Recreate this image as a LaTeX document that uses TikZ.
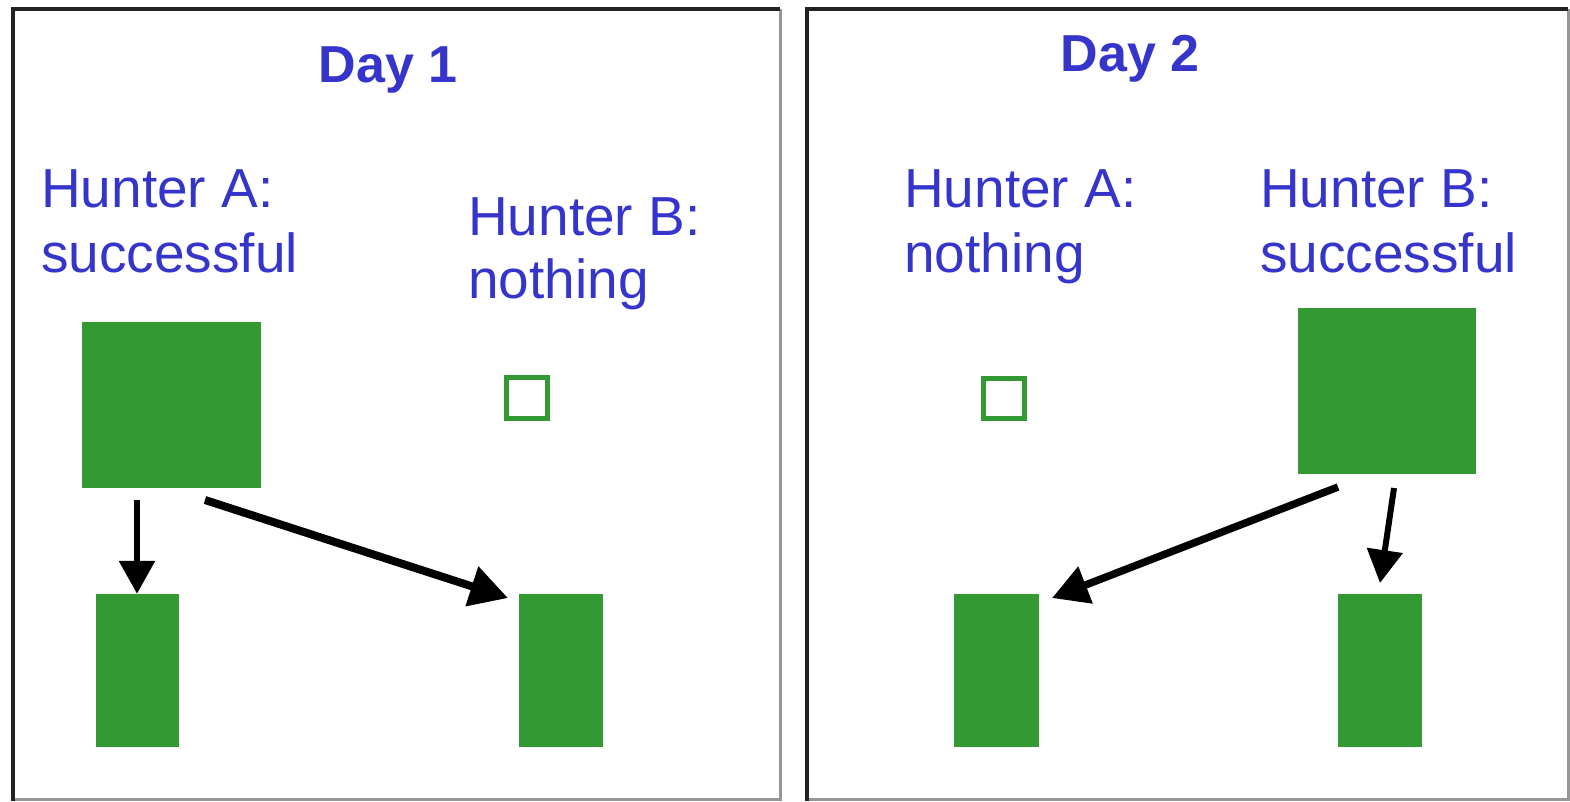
\documentclass[tikz,border=0pt]{standalone}
\usepackage{fontspec}
\setmainfont{Liberation Sans}
\usetikzlibrary{arrows.meta}
\definecolor{hgreen}{RGB}{51,153,51}
\definecolor{hblue}{RGB}{53,53,204}
\definecolor{darkedge}{RGB}{34,34,34}
\definecolor{lightedge}{RGB}{150,150,150}
\tikzset{
  x=1pt, y=-1pt,
  lbl/.style={text=hblue, font=\fontsize{55}{65}\selectfont, inner sep=0pt, anchor=base west},
  ttl/.style={text=hblue, font=\fontsize{52}{62}\selectfont\bfseries, inner sep=0pt, anchor=base},
  filled/.style={fill=hgreen, draw=none, inner sep=0pt},
  empty/.style={draw=hgreen, line width=5pt, fill=white, inner sep=0pt},
  arr/.style={draw=black, line width=6pt, -{Triangle[length=33pt,width=35pt]}},
  darkline/.style={draw=darkedge, line width=3.5pt},
  lightline/.style={draw=lightedge, line width=3pt}
}
\begin{document}
\begin{tikzpicture}
\useasboundingbox (0,0) rectangle (1570,801);
\fill[white] (0,0) rectangle (1570,801);
% panel frames
\draw[lightline] (780,9) -- (780,799) -- (13,799);
\draw[darkline] (13,801) -- (13,9) -- (780,9);
\draw[lightline] (1568,9) -- (1568,799) -- (807,799);
\draw[darkline] (807,801) -- (807,9) -- (1568,9);

% Day 1
\node[ttl] (d1) at (388,82) {Day 1};
\node[lbl] (a1l1) at (41,207) {Hunter A:};
\node[lbl] (a1l2) at (41,272) {successful};
\node[lbl] (b1l1) at (468,235) {Hunter B:};
\node[lbl] (b1l2) at (468,298) {nothing};

\node[filled, minimum width=179pt, minimum height=166pt] (big1) at (171.5,405) {};
\node[empty, minimum width=41pt, minimum height=41pt] (small1) at (526.5,398) {};
\node[filled, minimum width=83pt, minimum height=153pt] (bl1) at (137,670.5) {};
\node[filled, minimum width=84pt, minimum height=153pt] (br1) at (561,670.5) {};

\coordinate (s1a) at (137,500);
\coordinate (s1b) at (205,500);
\coordinate (t1b) at (508,598);
\draw[arr] (s1a) -- (bl1.north);
\draw[arr, line width=8pt, -{Triangle[length=38pt,width=40pt]}] (s1b) -- (t1b);

% Day 2
\node[ttl] (d2) at (1130,71) {Day 2};
\node[lbl] (a2l1) at (904,207) {Hunter A:};
\node[lbl] (a2l2) at (904,272) {nothing};
\node[lbl] (b2l1) at (1260,207) {Hunter B:};
\node[lbl] (b2l2) at (1260,272) {successful};

\node[empty, minimum width=41pt, minimum height=40pt] (small2) at (1003.5,398) {};
\node[filled, minimum width=178pt, minimum height=166pt] (big2) at (1387,391) {};
\node[filled, minimum width=85pt, minimum height=153pt] (bl2) at (996.5,670.5) {};
\node[filled, minimum width=84pt, minimum height=153pt] (br2) at (1380,670.5) {};

\coordinate (s2a) at (1338,487);
\coordinate (t2a) at (1052,598);
\coordinate (s2b) at (1394,488);
\coordinate (t2b) at (1380,583);
\draw[arr, line width=7.5pt, -{Triangle[length=36pt,width=38pt]}] (s2a) -- (t2a);
\draw[arr] (s2b) -- (t2b);
\end{tikzpicture}
\end{document}
